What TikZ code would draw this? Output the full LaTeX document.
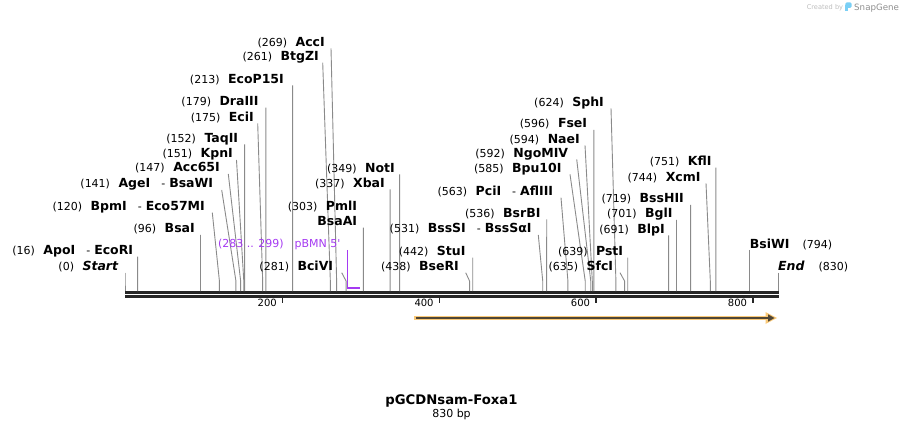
\documentclass[tikz,border=0pt]{standalone}
\usepackage{fontspec}
\setmainfont{DejaVu Sans}
\usetikzlibrary{calc}
\definecolor{cutgray}{HTML}{8A8A8A}
\definecolor{bardark}{HTML}{262626}
\definecolor{featpurple}{HTML}{A53AF2}
\definecolor{featorange}{HTML}{FAC978}
\definecolor{arrowdark}{HTML}{4F4636}
\definecolor{snapblue}{HTML}{7ACFF5}
\definecolor{snapgray}{HTML}{8F8F8F}
\definecolor{createdgray}{HTML}{BDBDBD}
\newcommand\enzname[1]{{\fontsize{12.5}{14}\selectfont\bfseries #1}}
\newcommand\termfont{\fontsize{12.5}{14}\selectfont\bfseries\itshape}
\newcommand\numgap{\hspace{8.5pt}}
\newcommand\dashsep{\hspace{11pt}-\hspace{4pt}}
% left label: id, position, label centre y, line start x, gap, text
\newcommand\enzL[6]{%
  \coordinate (C#1) at ({125+0.7867*#2},291);
  \node[lbl,anchor=base east] (L#1) at ({#4-#5},{#3+4}) {#6};
  \draw[cutline] ([xshift=#5pt,yshift=-2pt]L#1.base east) -- ($(C#1)+(0,-10)$) -- (C#1);
}
% right label: id, position, label centre y, text
\newcommand\enzR[4]{%
  \coordinate (C#1) at ({125+0.7867*#2},291);
  \node[lbl,anchor=base west] (L#1) at ({125+0.7867*#2},{#3+4}) {#4};
  \draw[cutline] ([yshift=-2pt]L#1.base west) -- (C#1);
}
\tikzset{
  lbl/.style={inner sep=0pt, font=\fontsize{11}{13}\selectfont, text=black},
  cutline/.style={draw=cutgray, line width=0.9pt},
  barline/.style={draw=bardark, line width=2.7pt},
  tickmark/.style={draw=bardark, line width=1.6pt},
  ticklbl/.style={inner sep=0pt, font=\fontsize{10}{12}\selectfont, anchor=base east}
}
\begin{document}
\begin{tikzpicture}[x=1pt,y=-1pt]
\useasboundingbox (0,0) rectangle (904,430);

% sequence bar
\coordinate (B0) at (125,292.35);
\coordinate (B1) at (779,292.35);
\coordinate (B2) at (125,296.35);
\coordinate (B3) at (779,296.35);
\draw[barline] (B0) -- (B1);
\draw[barline] (B2) -- (B3);

% ticks
\foreach \tx/\tl in {282.5/200, 439.3/400, 595.7/600, 752.7/800}{
  \coordinate (tk\tl) at (\tx,297.5);
  \draw[tickmark] (tk\tl) -- ++(0,5);
  \node[ticklbl] (tl\tl) at (\tx-5.5,306.3) {\tl};
}

% enzymes, left labels
\enzL{S0}{0}{266.7}{125}{6.7}{(0)\numgap{\termfont Start}}
\enzL{E16}{16}{250.7}{137.6}{4.3}{(16)\numgap\enzname{ApoI}\dashsep\enzname{EcoRI}}
\enzL{E96}{96}{229}{200.5}{5.5}{(96)\numgap\enzname{BsaI}}
\enzL{E120}{120}{206.7}{212.3}{7.3}{(120)\numgap\enzname{BpmI}\dashsep\enzname{Eco57MI}}
\enzL{E141}{141}{184}{221.7}{8.4}{(141)\numgap\enzname{AgeI}\dashsep\enzname{BsaWI}}
\enzL{E147}{147}{168}{228.3}{8.3}{(147)\numgap\enzname{Acc65I}}
\enzL{E151}{151}{154}{236.5}{3.5}{(151)\numgap\enzname{KpnI}}
\enzL{E152}{152}{138.3}{244.6}{6.3}{(152)\numgap\enzname{TaqII}}
\enzL{E175}{175}{117.3}{257.7}{3.7}{(175)\numgap\enzname{EciI}}
\enzL{E179}{179}{101.7}{265.8}{7.1}{(179)\numgap\enzname{DraIII}}
\enzL{E213}{213}{79.3}{292.6}{8.6}{(213)\numgap\enzname{EcoP15I}}
\enzL{E261}{261}{56.7}{322.7}{3.7}{(261)\numgap\enzname{BtgZI}}
\enzL{E269}{269}{42.3}{331}{6}{(269)\numgap\enzname{AccI}}
\enzL{E281}{281}{266.7}{341.7}{8.4}{(281)\numgap\enzname{BciVI}}
\enzL{E337}{337}{183.3}{390.1}{5.1}{(337)\numgap\enzname{XbaI}}
\enzL{E349}{349}{168.3}{399.6}{4.6}{(349)\numgap\enzname{NotI}}
\enzL{E438}{438}{266.7}{465.7}{6.7}{(438)\numgap\enzname{BseRI}}
\enzL{E442}{442}{251.7}{472.7}{7}{(442)\numgap\enzname{StuI}}
\enzL{E531}{531}{229}{538.3}{6.6}{(531)\numgap\enzname{BssSI}\dashsep\enzname{BssSαI}}
\enzL{E536}{536}{213.3}{546.7}{6}{(536)\numgap\enzname{BsrBI}}
\enzL{E563}{563}{191.7}{561}{7.7}{(563)\numgap\enzname{PciI}\dashsep\enzname{AflIII}}
\enzL{E585}{585}{168.3}{570}{8.3}{(585)\numgap\enzname{Bpu10I}}
\enzL{E592}{592}{153.3}{576.7}{8.4}{(592)\numgap\enzname{NgoMIV}}
\enzL{E594}{594}{139.3}{585}{5}{(594)\numgap\enzname{NaeI}}
\enzL{E596}{596}{124}{593.9}{6.6}{(596)\numgap\enzname{FseI}}
\enzL{E624}{624}{102.3}{611}{7}{(624)\numgap\enzname{SphI}}
\enzL{E635}{635}{266.7}{620}{6.7}{(635)\numgap\enzname{SfcI}}
\enzL{E639}{639}{251.7}{627.7}{4.4}{(639)\numgap\enzname{PstI}}
\enzL{E691}{691}{229.3}{668.6}{3.6}{(691)\numgap\enzname{BlpI}}
\enzL{E701}{701}{214}{676.5}{3.8}{(701)\numgap\enzname{BglI}}
\enzL{E719}{719}{199}{690.6}{6.6}{(719)\numgap\enzname{BssHII}}
\enzL{E744}{744}{177.3}{706}{5.3}{(744)\numgap\enzname{XcmI}}
\enzL{E751}{751}{161.7}{715.8}{4.1}{(751)\numgap\enzname{KflI}}

% PmlI / BsaAI pair (303)
\coordinate (C303) at ({125+0.7867*303},291);
\node[lbl,anchor=base east] (LPml) at (357.3,210.7) {(303)\numgap\enzname{PmlI}};
\node[lbl,anchor=base east] (LBsaAA) at (357.3,225.7) {\enzname{BsaAI}};
\draw[cutline] ([xshift=6.1pt,yshift=-2pt]LBsaAA.base east) -- (C303);

% right labels
\enzR{E794}{794}{244}{\enzname{BsiWI}\hspace{13pt}(794)}
\enzR{E830}{830}{266.7}{{\termfont End}\hspace{14pt}(830)}

% pBMN 5' feature
\node[lbl,text=featpurple,anchor=base east] (Lpbmn) at (340.7,247.3) {(283 .. 299)\hspace{11pt}pBMN 5\textquotesingle};
\coordinate (FpA) at (347.3,287.7);
\coordinate (FpB) at (359.6,287.7);
\draw[featpurple, line width=1pt] ([xshift=6.6pt,yshift=-2.7pt]Lpbmn.base east) -- ($(FpA)+(0,1)$);
\draw[featpurple, line width=2pt] (FpA) -- (FpB);

% orange feature arrow
\coordinate (OA) at (414,318);
\coordinate (OB) at (769,318);
\draw[featorange, line width=4.6pt] (OA) -- (OB);
\fill[featorange] (765.5,312) -- (777,318) -- (765.5,324) -- cycle;
\draw[arrowdark, line width=1.5pt] ($(OA)+(1.5,0)$) -- ($(OB)+(-1,0)$);
\fill[arrowdark] (768,314.3) -- (774.5,318) -- (768,321.7) -- cycle;

% title
\node[font=\fontsize{13.2}{15}\selectfont\bfseries, anchor=base, inner sep=0pt] (title) at (451.5,404) {pGCDNsam-Foxa1};
\node[font=\fontsize{11}{13}\selectfont, anchor=base, inner sep=0pt] (len) at (451.5,417.5) {830 bp};

% created by SnapGene
\node[font=\fontsize{6.6}{8}\selectfont, text=createdgray, anchor=base east, inner sep=0pt] (cby) at (843.3,10) {Created by};
\fill[snapblue, rounded corners=1.2pt] (845.3,2.5) rectangle (851.6,7.8);
\fill[snapblue] (845.3,5) rectangle (847.9,11.5);
\node[font=\fontsize{8.7}{10}\selectfont, text=snapgray, anchor=base west, inner sep=0pt] (sgn) at (854,10.8) {SnapGene};
\end{tikzpicture}
\end{document}
